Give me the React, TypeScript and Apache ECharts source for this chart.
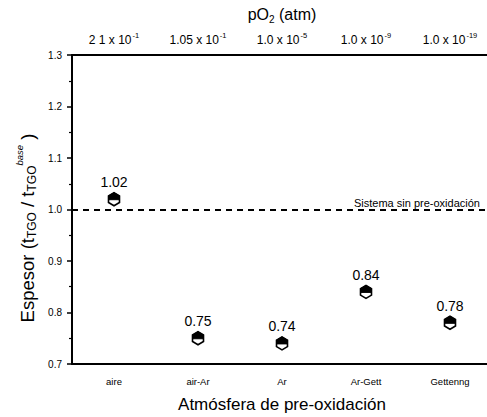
import React, { useEffect, useRef } from "react";
import * as echarts from "echarts";

const categories = ["aire", "air-Ar", "Ar", "Ar-Gett", "Gettenng"];
const values = [1.02, 0.75, 0.74, 0.84, 0.78];
const valueLabels = ["1.02", "0.75", "0.74", "0.84", "0.78"];
const pO2Bases = ["2 1 x 10", "1.05 x 10", "1.0 x 10", "1.0 x 10", "1.0 x 10"];
const pO2Exponents = ["-1", "-1", "-5", "-9", "-19"];
const yTicks = { min: 0.7, max: 1.3, interval: 0.1 };
const referenceValue = 1.0;
const referenceLabel = "Sistema sin pre-oxidación";

const FONT = '"Liberation Sans", Arial, sans-serif';

export default function App() {
  const ref = useRef<HTMLDivElement>(null);
  useEffect(() => {
    document.body.style.margin = "0";
    const chart = echarts.init(ref.current!, null, { renderer: "svg" });
    const option: any = {
      animation: false,
      backgroundColor: "#fff",
      textStyle: { fontFamily: FONT, color: "#000" },
      grid: { left: 72, top: 55, bottom: 53, width: 420, outerBoundsMode: "none", containLabel: false },
      xAxis: [
        {
          type: "category",
          position: "bottom",
          data: categories,
          boundaryGap: true,
          axisLine: { lineStyle: { color: "#000", width: 2 } },
          axisTick: { alignWithLabel: true, interval: 0, length: 5, lineStyle: { color: "#000", width: 1.5 } },
          axisLabel: { color: "#000", fontSize: 9.5, fontFamily: FONT, margin: 12, interval: 0 },
          name: "Atmósfera de pre-oxidación",
          nameLocation: "middle",
          nameGap: 32,
          nameTextStyle: { color: "#000", fontSize: 17, fontFamily: FONT },
          splitLine: { show: false },
        },
        {
          type: "category",
          position: "top",
          data: categories,
          boundaryGap: true,
          axisLine: { lineStyle: { color: "#000", width: 2 } },
          axisTick: { alignWithLabel: true, interval: 0, length: 5, lineStyle: { color: "#000", width: 1.5 } },
          axisLabel: {
            color: "#000",
            margin: 7,
            interval: 0,
            formatter: (_v: string, i: number) => `{n|${pO2Bases[i]}}{s|${pO2Exponents[i]}}`,
            rich: {
              n: { fontSize: 12, fontFamily: FONT, color: "#000" },
              s: { fontSize: 7.5, fontFamily: FONT, color: "#000", padding: [0, 0, 9, 1] },
            },
          },
          name: "{a|pO}{b|2}{a| (atm)}",
          nameLocation: "middle",
          nameGap: 31,
          nameTextStyle: {
            rich: {
              a: { fontSize: 16, fontFamily: FONT, color: "#000" },
              b: { fontSize: 10, fontFamily: FONT, color: "#000", padding: [9, 0, 0, 0] },
            },
          },
          splitLine: { show: false },
        },
      ],
      yAxis: {
        type: "value",
        min: yTicks.min,
        max: yTicks.max,
        interval: yTicks.interval,
        axisLine: { show: true, lineStyle: { color: "#000", width: 2 } },
        axisTick: { show: true, length: 5, lineStyle: { color: "#000", width: 1.5 } },
        minorTick: { show: true, splitNumber: 2, length: 3, lineStyle: { color: "#000", width: 1.2 } },
        axisLabel: {
          color: "#000",
          fontSize: 10,
          fontFamily: FONT,
          margin: 10,
          formatter: (v: number) => v.toFixed(1),
        },
        splitLine: { show: false },
      },
      graphic: [
        {
          type: "text",
          x: 27,
          y: 228,
          rotation: Math.PI / 2,
          style: {
            text: "{a|Espesor (t}{sub|TGO}{a| / t}{sub|TGO}{sup|base}{a| )}",
            rich: {
              a: { fontSize: 18.5, fontFamily: FONT, fill: "#000" },
              sub: { fontSize: 12, fontFamily: FONT, fill: "#000", padding: [10, 0, 0, 0] },
              sup: { fontSize: 9.5, fontFamily: FONT, fill: "#000", padding: [0, 0, 15, 0], fontStyle: "italic" },
            },
            align: "center",
            verticalAlign: "middle",
          },
        },
        {
          type: "text",
          x: 354,
          y: 203,
          style: {
            text: referenceLabel,
            font: `11px ${FONT}`,
            fill: "#000",
            align: "left",
            verticalAlign: "middle",
          },
        },
      ],
      series: [
        {
          type: "custom",
          xAxisIndex: 0,
          yAxisIndex: 0,
          data: values.map((v, i) => [i, v]),
          renderItem: (params: any, api: any) => {
            const idx = params.dataIndex;
            const [cx, cy] = api.coord([api.value(0), api.value(1)]);
            const w = 5.5;
            const h = 6.5;
            return {
              type: "group",
              children: [
                {
                  type: "polygon",
                  shape: {
                    points: [
                      [cx, cy - h],
                      [cx + w, cy - h / 2],
                      [cx + w, cy + h / 2],
                      [cx, cy + h],
                      [cx - w, cy + h / 2],
                      [cx - w, cy - h / 2],
                    ],
                  },
                  style: { fill: "#fff", stroke: "#000", lineWidth: 1.6 },
                },
                {
                  type: "polygon",
                  shape: {
                    points: [
                      [cx, cy - h],
                      [cx + w, cy - h / 2],
                      [cx + w, cy + 0.5],
                      [cx - w, cy + 0.5],
                      [cx - w, cy - h / 2],
                    ],
                  },
                  style: { fill: "#000", stroke: "#000", lineWidth: 1 },
                },
                {
                  type: "text",
                  style: {
                    text: valueLabels[idx],
                    x: cx,
                    y: cy - 17,
                    align: "center",
                    verticalAlign: "middle",
                    fill: "#000",
                    font: `14px ${FONT}`,
                  },
                },
              ],
            };
          },
          markLine: {
            silent: true,
            symbol: "none",
            label: { show: false },
            lineStyle: { color: "#000", width: 2, type: [6, 5] },
            data: [{ yAxis: referenceValue }],
          },
        },
      ],
    };
    chart.setOption(option);
    return () => chart.dispose();
  }, []);
  return <div ref={ref} style={{ width: 487, height: 417 }} />;
}
